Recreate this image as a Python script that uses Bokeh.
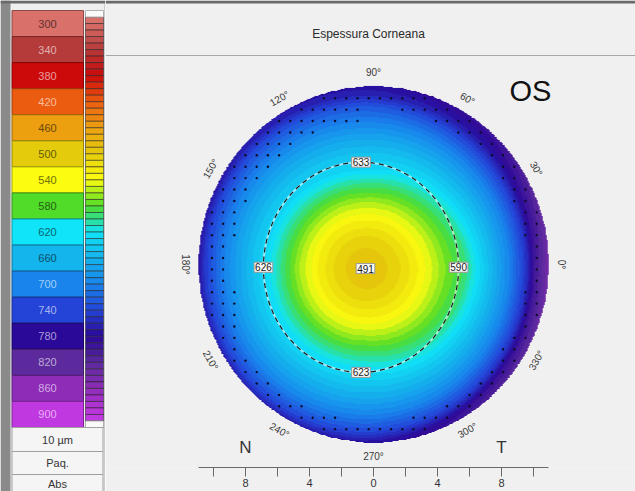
import numpy as np
from bokeh.plotting import figure
from bokeh.models import Range1d, LinearAxis, FixedTicker, LinearColorMapper
from bokeh.layouts import row
from bokeh.core.properties import value
from bokeh.embed import file_html
from bokeh.resources import INLINE

# ------------------------------------------------------------------ data
scale_values = [300, 340, 380, 420, 460, 500, 540, 580, 620, 660, 700, 740, 780, 820, 860, 900]
scale_colors = ["#d9706a", "#b53a3a", "#cc0a0a", "#ec5c10", "#eca010", "#e4cc0c", "#fcfc10", "#50dc28",
                "#10e4f8", "#14b4ec", "#1884ec", "#2444d8", "#2a0898", "#5c2a9c", "#8e2cb8", "#c038e0"]
step_um = 10
side_labels = ["10 µm", "Paq.", "Abs"]

title = "Espessura Corneana"
eye_label = "OS"
side_letters = ["N", "T"]
side_letter_x = [-8, 8]

# thickness (µm) read along 8 meridians (deg) at radii (mm) from the thinnest point
profile_angles = [0, 45, 90, 135, 180, 225, 270, 315]
profile_radii = [0, 1, 2, 3, 4, 5, 6.1, 7, 8, 9, 10, 10.6, 11.6]
profile_0 = [491, 496, 507, 524, 546, 570, 590, 625, 662, 700, 750, 800, 850]
profile_45 = [491, 497, 509, 528, 552, 580, 612, 640, 668, 700, 740, 770, 800]
profile_90 = [491, 497, 510, 531, 558, 592, 633, 648, 672, 700, 730, 760, 785]
profile_135 = [491, 497, 510, 530, 557, 590, 628, 648, 672, 700, 735, 765, 790]
profile_180 = [491, 497, 510, 530, 556, 589, 626, 648, 675, 705, 745, 785, 815]
profile_225 = [491, 497, 510, 530, 556, 588, 624, 645, 672, 702, 740, 775, 800]
profile_270 = [491, 497, 510, 530, 556, 588, 623, 644, 670, 700, 738, 770, 795]
profile_315 = [491, 496, 508, 526, 549, 575, 605, 635, 665, 700, 745, 790, 830]
profiles = [profile_0, profile_45, profile_90, profile_135,
            profile_180, profile_225, profile_270, profile_315]

map_radius = 10.95            # mm
thin_center = (-0.5, -0.25)   # mm
center_value = 491
ring_center = (-0.78, -0.17)
ring_size = (12.2, 12.9)      # mm (width, height)
ring_values = [633, 626, 623, 590]      # top, left, bottom, right
angle_ticks = list(range(0, 360, 30))
angle_label_radius = 11.75
ruler_ticks = [-10, -8, -6, -4, -2, 0, 2, 4, 6, 8, 10]
ruler_labelled = [-8, -4, 0, 4, 8]

FONT = "Liberation Sans"


# ------------------------------------------------------------------ colours
def hex_to_rgb(h):
    return tuple(int(h[i:i + 2], 16) for i in (1, 3, 5))


block_rgb = np.array([hex_to_rgb(c) for c in scale_colors], float)


def color_at(vals):
    out = []
    for v in np.atleast_1d(vals):
        rgb = [np.interp(v, scale_values, block_rgb[:, k]) for k in range(3)]
        out.append("#%02x%02x%02x" % tuple(int(round(c)) for c in rgb))
    return out


def mix(h, other, t):
    a = np.array(hex_to_rgb(h), float)
    b = np.array(hex_to_rgb(other), float)
    c = a * (1 - t) + b * t
    return "#%02x%02x%02x" % tuple(int(round(x)) for x in c)


def text_col(h):
    r, g, b = hex_to_rgb(h)
    lum = (0.299 * r + 0.587 * g + 0.114 * b) / 255
    return mix(h, "#000000", 0.55) if lum > 0.5 else mix(h, "#ffffff", 0.6)


half = (scale_values[1] - scale_values[0]) / 2
lo, hi = scale_values[0] - half, scale_values[-1] + half
band_centers = np.arange(lo + step_um / 2, hi, step_um)
palette = color_at(band_centers)
mapper = LinearColorMapper(palette=palette, low=lo, high=hi, nan_color="rgba(0,0,0,0)")

# ------------------------------------------------------------------ left panel
H = 491
page_top, page_bot = 0, 491
blk_top, blk_bot = 10, 427
um_per_px = (hi - lo) / (blk_bot - blk_top)
um_range = Range1d(start=hi + (page_bot - blk_bot) * um_per_px, end=lo - (blk_top - page_top) * um_per_px)

left = figure(width=105, height=H, x_range=Range1d(0, 105), y_range=Range1d(page_bot, page_top),
              x_axis_type=None, y_axis_type=None, toolbar_location=None, output_backend="svg",
              min_border=0, outline_line_color=None,
              background_fill_color="#efefef", border_fill_color="#efefef")
left.extra_y_ranges = {"um": um_range}

left.quad(left=0, right=10, top=page_top, bottom=page_bot, fill_color="#8a8a8a", line_color=None)
left.quad(left=0, right=105, top=0, bottom=3, fill_color="#6a6a6a", line_color=None)
left.segment(x0=104.5, x1=104.5, y0=3, y1=page_bot, line_color="#a8a8a8", line_width=1)

vals = np.array(scale_values)
left.quad(left=11.5, right=83, top=vals - half, bottom=vals + half, y_range_name="um",
          fill_color=scale_colors, line_color=[mix(c, "#000000", 0.35) for c in scale_colors],
          line_width=1)
left.text(x=47, y=vals, text=[str(v) for v in scale_values], y_range_name="um",
          text_align="center", text_baseline="middle", text_font=value(FONT),
          text_font_size="11px", text_color=[text_col(c) for c in scale_colors])

levels = np.arange(lo + step_um, hi - step_um + 1, step_um)
left.quad(left=85, right=103, top=levels, bottom=levels + step_um, y_range_name="um",
          fill_color=color_at(levels + step_um / 2), line_color="#202020", line_alpha=0.55,
          line_width=1)
left.quad(left=85, right=103, top=[lo, hi - step_um], bottom=[lo + step_um, hi], y_range_name="um",
          fill_color="#fafafa", line_color="#b0b0b0")

box_edges = [427, 451, 474, 498]
left.quad(left=11.5, right=102.5, top=box_edges[:-1], bottom=box_edges[1:],
          fill_color="#f5f5f5", line_color="#a0a0a0")
left.text(x=57, y=[439, 462.5, 483], text=side_labels,
          text_align="center", text_baseline="middle", text_font=value(FONT),
          text_font_size="11px", text_color="#333333")

# ------------------------------------------------------------------ right panel (map)
W = 530
bottom_border = 24
frame_bot = page_bot - bottom_border
x0_page, x1_page = 105, 635
cx_page, cy_page = 373, 264
sx, sy = 16.0, 16.3  # px per mm
xr = Range1d((x0_page - cx_page) / sx, (x1_page - cx_page) / sx)
yr = Range1d(-(frame_bot - cy_page) / sy, (cy_page - page_top) / sy)

p = figure(width=W, height=H, x_range=xr, y_range=yr, x_axis_type=None, y_axis_type=None,
           toolbar_location=None, output_backend="svg",
           min_border_left=0, min_border_right=0, min_border_top=0, min_border_bottom=bottom_border,
           outline_line_color=None, background_fill_color="#f0f0f0", border_fill_color="#f0f0f0")
p.extra_x_ranges = {"px": Range1d(x0_page, x1_page)}
p.extra_y_ranges = {"px": Range1d(frame_bot, page_top)}

for fig in (left, p):
    if "frame_align" in fig.properties():
        fig.frame_align = False

p.quad(left=x0_page, right=x1_page, top=0, bottom=3, x_range_name="px", y_range_name="px",
       fill_color="#6a6a6a", line_color=None)
p.text(x=[368], y=[33], text=[title], x_range_name="px", y_range_name="px",
       text_align="center", text_baseline="middle", text_font=value(FONT),
       text_font_size="12px", text_color="#2a2a2a")
p.segment(x0=x0_page, x1=x1_page, y0=55, y1=55, x_range_name="px", y_range_name="px",
          line_color="#a8a8a8", line_width=1)

# thickness field
N = 500
g = np.linspace(-11.2, 11.2, N)
X, Y = np.meshgrid(g, g)
dx, dy = X - thin_center[0], Y - thin_center[1]
r = np.hypot(dx, dy)
th = np.degrees(np.arctan2(dy, dx)) % 360
prof = np.array(profiles, float)
radial = np.stack([np.interp(r, profile_radii, prof[i]) for i in range(len(profile_angles))])
pos = th / 45.0
i0 = np.floor(pos).astype(int) % 8
i1 = (i0 + 1) % 8
f = pos - np.floor(pos)
T = (1 - f) * np.take_along_axis(radial, i0[None], 0)[0] + f * np.take_along_axis(radial, i1[None], 0)[0]
T[np.hypot(X, Y) > map_radius] = np.nan
p.image(image=[T], x=-11.2, y=-11.2, dw=22.4, dh=22.4, color_mapper=mapper)

# measurement dots in the periphery
gd = np.arange(-10.8, 10.81, 0.7)
DX, DY = np.meshgrid(gd, gd)
RR = np.hypot(DX, DY)
AA = np.degrees(np.arctan2(DY, DX)) % 360
inner = np.where((AA >= 95) & (AA <= 205), 8.8, 9.6)
m = (RR >= inner) & (RR <= 10.7)
p.scatter(DX[m], DY[m], marker="circle", size=2.4, fill_color="#0c0c2c", line_color=None)

# dashed ring
p.ellipse(x=[ring_center[0]], y=[ring_center[1]], width=ring_size[0], height=ring_size[1],
          fill_color=None, line_color="white", line_alpha=0.55, line_width=2)
p.ellipse(x=[ring_center[0]], y=[ring_center[1]], width=ring_size[0], height=ring_size[1],
          fill_color=None, line_color="#1a1a1a", line_width=1.2, line_dash="5 4")

ring_x = [ring_center[0], ring_center[0] - ring_size[0] / 2, ring_center[0], ring_center[0] + ring_size[0] / 2]
ring_y = [ring_center[1] + ring_size[1] / 2, ring_center[1], ring_center[1] - ring_size[1] / 2, ring_center[1]]
p.text(x=ring_x + [thin_center[0]], y=ring_y + [thin_center[1]],
       text=[str(v) for v in ring_values] + [str(center_value)],
       text_align="center", text_baseline="middle", text_font=value(FONT),
       text_font_size="10px", text_color="#1a1a1a",
       background_fill_color="#f8f8f8", border_line_color="#9a9a9a", padding=1)

# angle labels
ang = np.radians(angle_ticks)
rot = [a - 90 if a < 180 else a - 270 for a in angle_ticks]
p.text(x=angle_label_radius * np.cos(ang), y=angle_label_radius * np.sin(ang),
       text=["%d°" % a for a in angle_ticks], angle=rot, angle_units="deg",
       text_align="center", text_baseline="middle", text_font=value(FONT),
       text_font_size="10px", text_color="#3a3a3a")

p.text(x=side_letter_x, y=[-11.25, -11.25], text=side_letters, text_align="center",
       text_baseline="middle", text_font=value(FONT), text_font_size="17px", text_color="#353535")
p.text(x=[530], y=[90], text=[eye_label], x_range_name="px", y_range_name="px",
       text_align="center", text_baseline="middle", text_font=value(FONT),
       text_font_size="29px", text_color="#111111")

ax = LinearAxis(ticker=FixedTicker(ticks=ruler_ticks),
                major_label_overrides={t: (str(abs(t)) if t in ruler_labelled else "") for t in ruler_ticks})
ax.bounds = (-map_radius, map_radius)
ax.axis_line_color = "#6a6a6a"
ax.major_tick_line_color = "#6a6a6a"
ax.major_tick_out = 9
ax.major_tick_in = 0
ax.minor_tick_line_color = None
ax.major_label_standoff = 2
ax.major_label_text_font = FONT
ax.major_label_text_font_size = "11px"
ax.major_label_text_color = "#333333"
p.add_layout(ax, "below")

layout = row(left, p, spacing=0)
open("out.html", "w").write(file_html(layout, INLINE))
